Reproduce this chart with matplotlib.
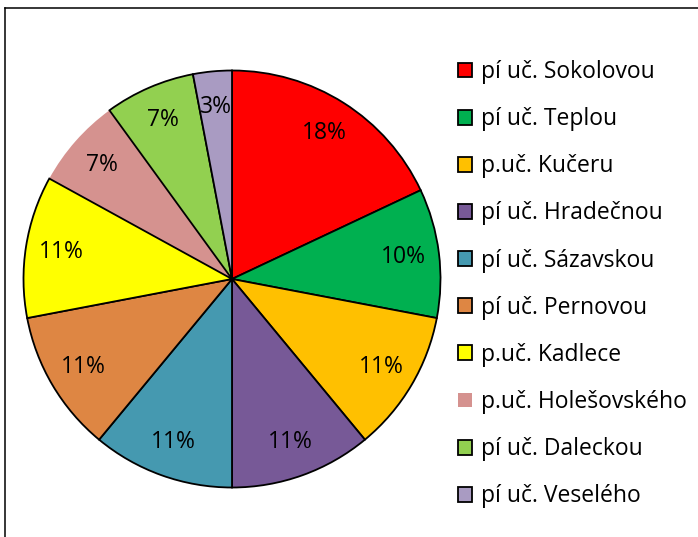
import matplotlib.pyplot as plt
from matplotlib.lines import Line2D

labels = ['pí uč. Sokolovou', 'pí uč. Teplou', 'p.uč. Kučeru', 'pí uč. Hradečnou',
          'pí uč. Sázavskou', 'pí uč. Pernovou', 'p.uč. Kadlece', 'p.uč. Holešovského',
          'pí uč. Daleckou', 'pí uč. Veselého']
values = [18, 10, 11, 11, 11, 11, 11, 7, 7, 3]
colors = ['#FF0000', '#00B050', '#FFC000', '#775997', '#4599B0',
          '#DE8643', '#FFFF00', '#D5928F', '#92D050', '#A99BC2']

plt.rcParams['font.family'] = ['Open Sans', 'DejaVu Sans']

W, H = 698, 537
fig = plt.figure(figsize=(W / 100, H / 100), dpi=100)

cx, cy, r = 232, 279, 208.5
ax = fig.add_axes([(cx - r) / W, (H - cy - r) / H, 2 * r / W, 2 * r / H])

wedges, texts, autotexts = ax.pie(values, colors=colors, startangle=90, counterclock=False,
                                  autopct='%d%%', pctdistance=0.83,
                                  wedgeprops=dict(edgecolor='black', linewidth=1.3),
                                  textprops=dict(fontsize=16.5, color='black'))
# the pink slice has no outline in the original; keep it under its neighbours' edges
wedges[7].set_edgecolor('none')
wedges[7].set_zorder(0.5)
ax.set_xlim(-1, 1)
ax.set_ylim(-1, 1)
ax.set_aspect('equal')
ax.axis('off')

fig.legend(wedges, labels, loc='upper left', bbox_to_anchor=(458 / W, 1 - 60 / H),
           frameon=False, fontsize=16.5, handlelength=0.62, handleheight=0.62,
           handletextpad=0.38, labelspacing=1.01, borderaxespad=0, borderpad=0)

# chart frame (top and left edges only visible)
fig.add_artist(Line2D([5 / W, 1], [1 - 8 / H, 1 - 8 / H], color='black', lw=1.1))
fig.add_artist(Line2D([5 / W, 5 / W], [0, 1 - 8 / H], color='black', lw=1.1))

fig.savefig('out.png', dpi=100)
